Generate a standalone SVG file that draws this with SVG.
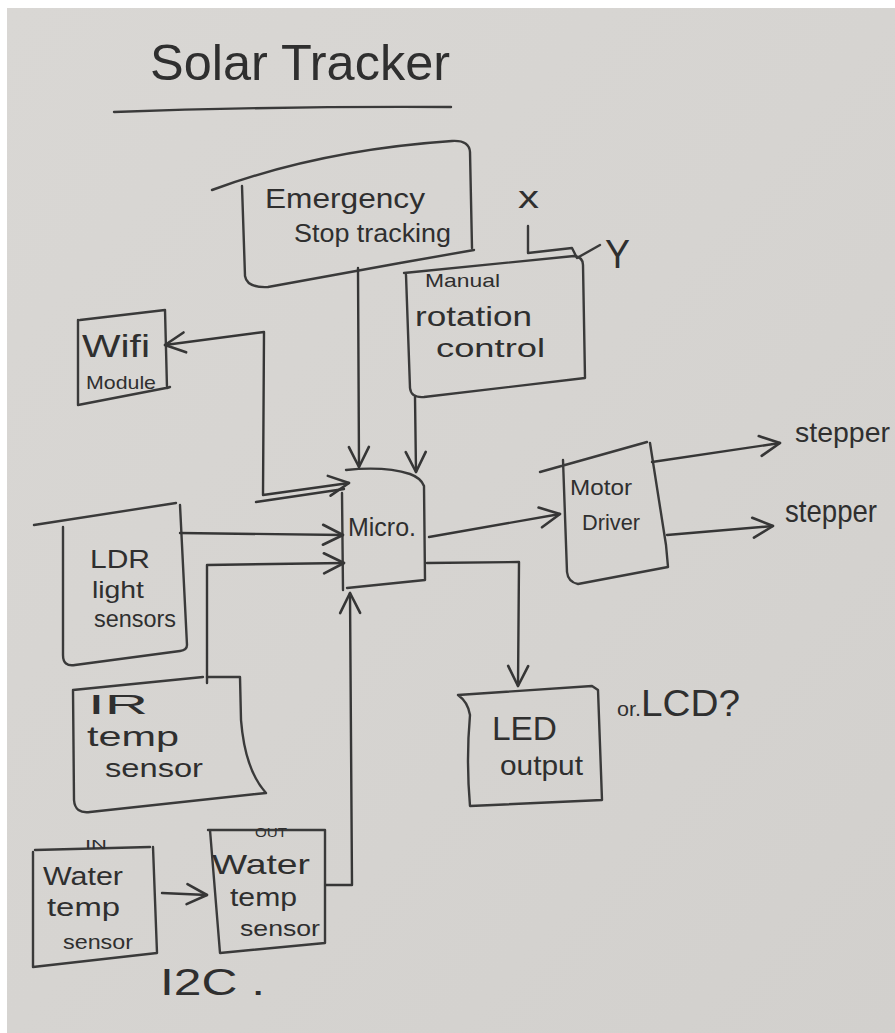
<svg xmlns="http://www.w3.org/2000/svg" width="895" height="1033" viewBox="0 0 895 1033">
<defs>
<linearGradient id="paper" x1="0" y1="0" x2="1" y2="1">
<stop offset="0" stop-color="#d9d7d4"/>
<stop offset="0.5" stop-color="#d6d4d1"/>
<stop offset="1" stop-color="#d2d0cd"/>
</linearGradient>
<marker id="ah" viewBox="0 0 12 12" refX="11" refY="6" markerWidth="24" markerHeight="24" markerUnits="userSpaceOnUse" orient="auto-start-reverse">
<path d="M1,1 L11,6 L1,11" fill="none" stroke="#363636" stroke-width="1.3" stroke-linecap="round" stroke-linejoin="round"/>
</marker>
<style>
.ln{fill:none;stroke:#3a3a3a;stroke-width:2.4;stroke-linecap:round;stroke-linejoin:round}
.cn{fill:none;stroke:#363636;stroke-width:2.4;stroke-linecap:round;stroke-linejoin:round}
.t{font-family:"Liberation Sans","DejaVu Sans",sans-serif;fill:#2f2f2f}
</style>
</defs>
<rect width="895" height="1033" fill="#ffffff"/>
<rect x="7" y="8" width="888" height="1025" fill="url(#paper)"/>

<g id="title">
<text class="t" x="150" y="80" font-size="50" textLength="300" lengthAdjust="spacingAndGlyphs">Solar Tracker</text>
<path class="ln" d="M114,112 Q280,106 451,107" stroke-width="3"/>
</g>

<g id="emergency">
<path class="ln" d="M212,190 Q320,150 452,141 Q469,140 470,152 L472,248"/>
<path class="ln" d="M242,186 L245,276 Q247,288 268,287 L400,263 L474,250"/>
<text class="t" x="265" y="208" font-size="28" textLength="160" lengthAdjust="spacingAndGlyphs">Emergency</text>
<text class="t" x="294" y="242" font-size="26" textLength="157" lengthAdjust="spacingAndGlyphs">Stop tracking</text>
</g>

<g id="axes">
<text class="t" x="518" y="208" font-size="32" textLength="21" lengthAdjust="spacingAndGlyphs">x</text>
<path class="ln" d="M528,226 L528,253 L572,248 L577,258 L600,245"/>
<text class="t" x="605" y="268" font-size="40" textLength="25" lengthAdjust="spacingAndGlyphs">Y</text>
</g>

<g id="manual">
<path class="ln" d="M404,273 L574,256 Q583,257 583,265 L585,378 L424,397 Q411,398 410,388 L406,275"/>
<text class="t" x="425" y="287" font-size="19" textLength="75" lengthAdjust="spacingAndGlyphs">Manual</text>
<text class="t" x="415" y="326" font-size="28" textLength="117" lengthAdjust="spacingAndGlyphs">rotation</text>
<text class="t" x="436" y="357" font-size="26" textLength="109" lengthAdjust="spacingAndGlyphs">control</text>
</g>

<g id="wifi">
<path class="ln" d="M80,320 L165,310 L167,388 L170,387 M166,388 L78,405 L78,320"/>
<text class="t" x="82" y="357" font-size="32" textLength="68" lengthAdjust="spacingAndGlyphs">Wifi</text>
<text class="t" x="86" y="389" font-size="19" textLength="70" lengthAdjust="spacingAndGlyphs">Module</text>
</g>

<g id="micro">
<path class="ln" d="M346,470 Q385,466 410,474 Q421,478 424,486 L425,580 L347,588 M342,493 L343,590"/>
<text class="t" x="348" y="536" font-size="26" textLength="68" lengthAdjust="spacingAndGlyphs">Micro.</text>
</g>

<g id="ldr">
<path class="ln" d="M34,525 L176,503 M180,505 L187,645 Q187,650 180,651 L75,665 Q63,667 63,655 L63,527"/>
<text class="t" x="90" y="568" font-size="26" textLength="60" lengthAdjust="spacingAndGlyphs">LDR</text>
<text class="t" x="92" y="598" font-size="24" textLength="52" lengthAdjust="spacingAndGlyphs">light</text>
<text class="t" x="94" y="627" font-size="24" textLength="82" lengthAdjust="spacingAndGlyphs">sensors</text>
</g>

<g id="ir">
<path class="ln" d="M73,690 L203,677 M207,677 L240,677 L241,720 Q245,770 266,793 L90,812 Q75,814 74,800 L73,690"/>
<text class="t" x="88" y="714" font-size="28" textLength="60" lengthAdjust="spacingAndGlyphs">IR</text>
<text class="t" x="87" y="746" font-size="28" textLength="92" lengthAdjust="spacingAndGlyphs">temp</text>
<text class="t" x="105" y="777" font-size="26" textLength="98" lengthAdjust="spacingAndGlyphs">sensor</text>
</g>

<g id="motor">
<path class="ln" d="M540,472 L647,442 M650,443 L666,545 L668,567 L578,584 Q568,582 567,572 L563,460"/>
<text class="t" x="570" y="495" font-size="22" textLength="62" lengthAdjust="spacingAndGlyphs">Motor</text>
<text class="t" x="582" y="530" font-size="22" textLength="58" lengthAdjust="spacingAndGlyphs">Driver</text>
</g>

<g id="stepper1">
<text class="t" x="795" y="442" font-size="28" textLength="95" lengthAdjust="spacingAndGlyphs">stepper</text>
</g>
<g id="stepper2">
<text class="t" x="785" y="522" font-size="32" textLength="92" lengthAdjust="spacingAndGlyphs">stepper</text>
</g>

<g id="led">
<path class="ln" d="M458,695 L592,686 L598,690 L602,800 L470,806 Q466,760 470,715 Q468,702 458,695"/>
<text class="t" x="492" y="740" font-size="34" textLength="65" lengthAdjust="spacingAndGlyphs">LED</text>
<text class="t" x="500" y="775" font-size="28" textLength="83" lengthAdjust="spacingAndGlyphs">output</text>
<text class="t" x="617" y="716" font-size="36" textLength="123" lengthAdjust="spacingAndGlyphs"><tspan font-size="20">or.</tspan>LCD?</text>
</g>

<g id="water-in">
<path class="ln" d="M35,850 L150,847 M153,847 L157,953 L33,967 L33,852"/>
<text class="t" x="85" y="849" font-size="12" textLength="22" lengthAdjust="spacingAndGlyphs">IN</text>
<text class="t" x="43" y="885" font-size="26" textLength="80" lengthAdjust="spacingAndGlyphs">Water</text>
<text class="t" x="47" y="916" font-size="26" textLength="73" lengthAdjust="spacingAndGlyphs">temp</text>
<text class="t" x="63" y="949" font-size="20" textLength="70" lengthAdjust="spacingAndGlyphs">sensor</text>
</g>

<g id="water-out">
<path class="ln" d="M208,830 L325,830 L325,943 L220,953 L210,830"/>
<text class="t" x="255" y="837" font-size="13" textLength="32" lengthAdjust="spacingAndGlyphs">OUT</text>
<text class="t" x="212" y="874" font-size="28" textLength="98" lengthAdjust="spacingAndGlyphs">Water</text>
<text class="t" x="230" y="906" font-size="26" textLength="67" lengthAdjust="spacingAndGlyphs">temp</text>
<text class="t" x="240" y="936" font-size="22" textLength="80" lengthAdjust="spacingAndGlyphs">sensor</text>
</g>

<g id="i2c">
<text class="t" x="160" y="995" font-size="36" textLength="105" lengthAdjust="spacingAndGlyphs">I2C .</text>
</g>

<g id="connectors">
<path class="cn" d="M358,268 L359,467" marker-end="url(#ah)"/>
<path class="cn" d="M415,397 L416,472" marker-end="url(#ah)"/>
<path class="cn" d="M165,345 L264,332 L263,495 L349,483" marker-start="url(#ah)" marker-end="url(#ah)"/>
<path class="cn" d="M256,502 L344,489" stroke-width="3"/>
<path class="cn" d="M180,533 L343,535" marker-end="url(#ah)"/>
<path class="cn" d="M207,683 L207,565 L344,563" marker-end="url(#ah)"/>
<path class="cn" d="M326,885 L352,885 L350,593" marker-end="url(#ah)"/>
<path class="cn" d="M429,537 L560,514" marker-end="url(#ah)"/>
<path class="cn" d="M427,563 L519,562 L518,686" marker-end="url(#ah)"/>
<path class="cn" d="M652,462 L780,443" marker-end="url(#ah)"/>
<path class="cn" d="M667,535 L773,526" marker-end="url(#ah)"/>
<path class="cn" d="M162,893 L207,895" marker-end="url(#ah)"/>
</g>
</svg>
